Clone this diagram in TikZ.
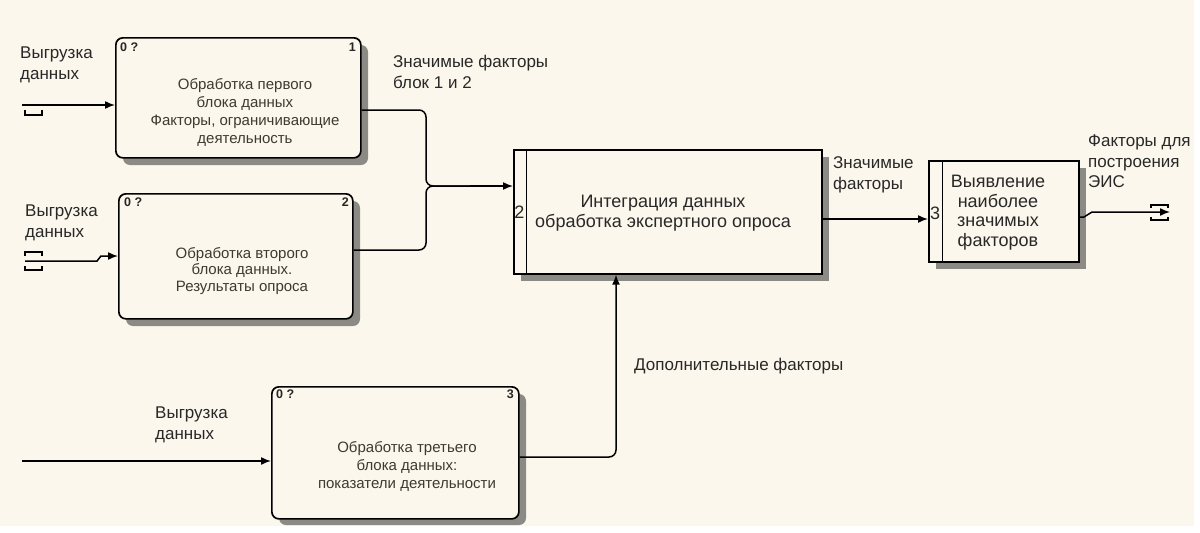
\documentclass[tikz,border=0pt]{standalone}
\usepackage{fontspec}
\setmainfont{Liberation Sans}
\usetikzlibrary{arrows.meta}
\definecolor{bgc}{RGB}{252,247,236}
\definecolor{txtc}{RGB}{40,40,40}
\definecolor{btxtc}{RGB}{62,58,50}
\definecolor{shc}{RGB}{140,138,132}
\begin{document}
\begin{tikzpicture}[x=1pt,y=-1pt,
  lbl/.style={font=\fontsize{17}{21}\selectfont, text=txtc, align=left, anchor=north west, inner sep=0pt},
  btxt/.style={font=\fontsize{15}{18}\selectfont, text=btxtc, align=center, anchor=north, inner sep=0pt},
  bigtxt/.style={font=\fontsize{18}{20}\selectfont, text=txtc, align=center, anchor=north, inner sep=0pt},
  rbox/.style={draw=black, line width=1.7pt, rounded corners=7pt, fill=bgc, inner sep=0pt, anchor=north west},
  sbox/.style={draw=black, line width=1.7pt, fill=bgc, inner sep=0pt, anchor=north west},
  shad/.style={fill=shc},
  arr/.style={-{Latex[length=10pt,width=8pt]}, line width=1.5pt},
  ln/.style={line width=1.5pt},
  tun/.style={line width=1.3pt},
  hdr/.style={font=\fontsize{12.5}{13}\selectfont\bfseries, text=black!85, inner sep=0pt},
  numtxt/.style={font=\fontsize{18}{20}\selectfont, text=txtc, inner sep=0pt}
]
\useasboundingbox (0,0) rectangle (1200,533);
\fill[white] (0,0) rectangle (1200,533);
\fill[bgc] (0,0) rectangle (1194,526);

% shadows
\fill[shad, rounded corners=7pt] (123,45) rectangle (368,165);
\fill[shad, rounded corners=7pt] (126,201) rectangle (360,326);
\fill[shad, rounded corners=7pt] (279,394) rectangle (526,525);
\fill[shad] (521,157) rectangle (829,281);
\fill[shad] (936,168) rectangle (1086,269);

% boxes
\node[rbox, minimum width=245pt, minimum height=120pt] (b1) at (115,37) {};
\node[rbox, minimum width=234pt, minimum height=125pt] (b2) at (118,193) {};
\node[rbox, minimum width=247pt, minimum height=132pt] (b3) at (271,386) {};
\node[sbox, minimum width=308pt, minimum height=124pt] (b4) at (513,149) {};
\node[sbox, minimum width=150pt, minimum height=101pt] (b5) at (928,160) {};
\draw[line width=1pt] (526,149) -- (526,273);
\draw[line width=1pt] (942,160) -- (942,261);

% headers
\node[hdr, anchor=north west] (h1a) at (120,43) {0 ?};
\node[hdr, anchor=north east] (h1b) at (356,43) {1};
\node[hdr, anchor=north west] (h2a) at (124,198) {0 ?};
\node[hdr, anchor=north east] (h2b) at (349,198) {2};
\node[hdr, anchor=north west] (h3a) at (276,390) {0 ?};
\node[hdr, anchor=north east] (h3b) at (514,390) {3};
\node[numtxt, anchor=center] (n4) at (519.5,212) {2};
\node[numtxt, anchor=center] (n5) at (935,213) {3};

% box texts
\node[btxt] (t1) at (245,78) {Обработка первого\\блока данных\\Факторы, ограничивающие\\деятельность};
\node[btxt, font=\fontsize{15}{16.5}\selectfont] (t2) at (242,247) {Обработка второго\\блока данных.\\Результаты опроса};
\node[btxt] (t3) at (407,441) {Обработка третьего\\блока данных:\hspace*{22pt}\\показатели деятельности};
\node[bigtxt] (t4) at (663,195) {Интеграция данных\\обработка экспертного опроса};
\node[bigtxt, font=\fontsize{18}{19.5}\selectfont] (t5) at (998,175) {Выявление\\наиболее\\значимых\\факторов};

% labels
\node[lbl] (l1) at (20,47) {Выгрузка\\данных};
\node[lbl] (l2) at (25,205) {Выгрузка\\данных};
\node[lbl] (l3) at (155,407) {Выгрузка\\данных};
\node[lbl] (l4) at (393,55) {Значимые факторы\\блок 1 и 2};
\node[lbl] (l5) at (833,156) {Значимые\\факторы};
\node[lbl, font=\fontsize{17}{20.5}\selectfont] (l6) at (1088,135) {Факторы для\\построения\\ЭИС};
\node[lbl] (l7) at (634,358) {Дополнительные факторы};

% input 1
\coordinate (s1) at (22,105);
\draw[arr] (s1) -- (s1 -| b1.west);
\draw[tun] (25,110) -- (25,115) -- (42,115) -- (42,110);

% input 2
\coordinate (s2) at (25,261);
\coordinate (k2) at (97,261);
\coordinate (k2b) at (101,256);
\draw[arr] (s2) -- (k2) -- (k2b) -- (k2b -| b2.west);
\draw[tun] (25,256) -- (25,252) -- (42,252) -- (42,256);
\draw[tun] (25,266) -- (25,270) -- (42,270) -- (42,266);

% input 3
\coordinate (s3) at (22,461);
\draw[arr] (s3) -- (s3 -| b3.west);

% outputs 1 and 2 merging
\coordinate (c110) at (426,110);
\coordinate (c250) at (426,250);
\coordinate (j) at (426,186);
\coordinate (jr) at (470,186);
\draw[ln, rounded corners=7pt] (c110 -| b1.east) -- (c110) -- (j) -- (jr);
\draw[ln, rounded corners=7pt] (c250 -| b2.east) -- (c250) -- (j) -- (jr);
\draw[arr] (jr) -- (jr -| b4.west);

% output 3 to box 4 (control)
\coordinate (c616) at (616,457);
\draw[arr, rounded corners=7pt] (c616 -| b3.east) -- (c616) -- (c616 |- b4.south);

% box 4 to box 5
\coordinate (c219) at (870,219);
\draw[arr] (c219 -| b4.east) -- (c219 -| b5.west);

% output of box 5
\coordinate (c217) at (1084,217);
\coordinate (c212) at (1092,212);
\coordinate (e5) at (1170,212);
\draw[arr] (c217 -| b5.east) -- (c217) -- (c212) -- (e5);
\draw[tun] (1151,208) -- (1151,205) -- (1168,205) -- (1168,208);
\draw[tun] (1151,217) -- (1151,220) -- (1168,220) -- (1168,217);
\end{tikzpicture}
\end{document}
